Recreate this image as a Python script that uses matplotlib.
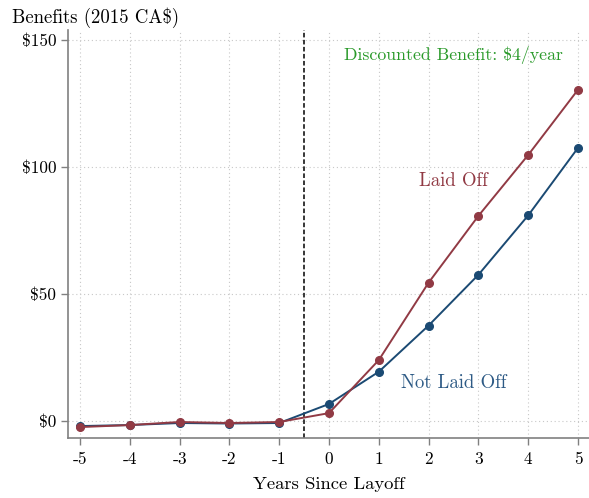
import numpy as np
import matplotlib
matplotlib.use("Agg")
import matplotlib.pyplot as plt

years = [-5, -4, -3, -2, -1, 0, 1, 2, 3, 4, 5]
laid_off = [-2.4, -1.6, -0.4, -0.8, -0.4, 3.1, 24.0, 54.5, 80.8, 104.8, 130.5]
not_laid_off = [-2.0, -1.6, -0.8, -1.0, -0.8, 6.7, 19.4, 37.6, 57.6, 81.0, 107.6]
y_ticks = [0, 50, 100, 150]
y_labels = ["$0", "$50", "$100", "$150"]

red = "#913a44"
blue = "#1b4a73"
green = "#2a9a2a"

plt.rcParams["font.family"] = ["cmr10", "DejaVu Serif"]
plt.rcParams["axes.formatter.use_mathtext"] = True

fig = plt.figure(figsize=(5.89, 4.98), dpi=100)
ax = fig.add_axes([68 / 589, 60 / 498, 521 / 589, 408 / 498])

ax.grid(True, color="#c8c8c8", linestyle=(0, (1, 2.5)), linewidth=0.8)
ax.set_axisbelow(True)

ax.plot(years, not_laid_off, color=blue, lw=1.4, marker="o", ms=5.5, zorder=3)
ax.plot(years, laid_off, color=red, lw=1.4, marker="o", ms=5.5, zorder=4)
ax.axvline(-0.5, color="black", ls=(0, (3, 1.6)), lw=1.1, zorder=2)

ax.set_xlim(-5.24, 5.22)
ax.set_ylim(-6.7, 154)
ax.set_xticks(years)
ax.set_xticklabels([str(y) for y in years])
ax.set_yticks(y_ticks)
ax.set_yticklabels(y_labels)

for s in ["top", "right"]:
    ax.spines[s].set_visible(False)
for s in ["left", "bottom"]:
    ax.spines[s].set_color("#808080")
    ax.spines[s].set_linewidth(1.2)
ax.tick_params(colors="#808080", labelcolor="black", labelsize=12.5, length=5, width=1)
ax.tick_params(axis="x", pad=5)

ax.set_xlabel("Years Since Layoff", fontsize=13.4, labelpad=7)
fig.text(12 / 589, 1 - 18 / 498, "Benefits (2015 CA$)", fontsize=13.5, va="center", ha="left")

ax.text(2.49, 144, "Discounted Benefit: $4/year", color=green, fontsize=12.8, ha="center", va="center")
ax.text(2.49, 94.5, "Laid Off", color=red, fontsize=13.5, ha="center", va="center")
ax.text(2.51, 15, "Not Laid Off", color="#2d5a85", fontsize=13.5, ha="center", va="center")

fig.savefig("out.png", dpi=100)
